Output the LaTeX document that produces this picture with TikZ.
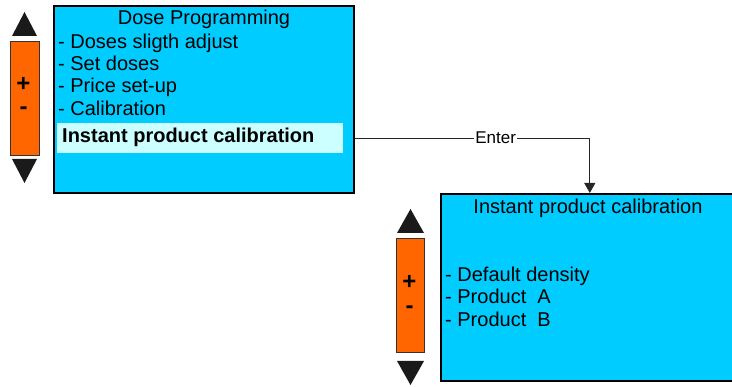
\documentclass[tikz,border=0pt]{standalone}
\usepackage{fontspec}
\setmainfont{Liberation Sans}
\usetikzlibrary{arrows.meta}
\definecolor{screencyan}{HTML}{00CCFF}
\definecolor{keyorange}{HTML}{FF6600}
\definecolor{hilite}{HTML}{CCFFFF}
\definecolor{tridark}{HTML}{1A1A1A}
\begin{document}
\begin{tikzpicture}[
    x=1pt, y=-1pt,
    screen/.style={draw=black, line width=1.6pt, fill=screencyan, anchor=north west, inner sep=0pt},
    item/.style={anchor=base west, inner sep=0pt, font=\fontsize{20}{22}\selectfont},
    key/.style={draw=black!80, line width=1pt, fill=keyorange, anchor=north west, inner sep=0pt},
    sign/.style={font=\fontsize{24}{24}\selectfont\bfseries, inner sep=0pt},
    arrow/.style={-{Triangle[length=10pt,width=11pt]}, draw=black!85, line width=0.8pt}
]
    \useasboundingbox (0,0) rectangle (732,387);

    % Screen 1: dose programming menu
    \node[screen, minimum width=300pt, minimum height=187pt] (dose) at (53,5) {};
    \node[fill=hilite, anchor=north west, minimum width=286pt, minimum height=30pt, inner sep=0pt] (hl) at (57,123) {};
    \node[item, anchor=base] (doseT) at (204,25) {Dose Programming};
    \node[item] (d1) at (58,48.3) {- Doses sligth adjust};
    \node[item] (d2) at (58,70.7) {- Set doses};
    \node[item] (d3) at (58,93) {- Price set-up};
    \node[item] (d4) at (58,115.3) {- Calibration};
    \node[item, font=\fontsize{20}{22}\selectfont\bfseries] (d5) at (62,142.7) {Instant product calibration};

    % Keypad 1
    \node[key, minimum width=29pt, minimum height=114pt] (key1) at (9.5,41) {};
    \fill[tridark] (12,36) -- (24.5,12) -- (37,36) -- cycle;
    \fill[tridark] (12,159) -- (24.5,183) -- (37,159) -- cycle;
    \node[sign] (plus1) at (23.5,84) {+};
    \node[sign] (minus1) at (23.5,111) {-};

    % Screen 2: instant product calibration
    \node[screen, minimum width=292pt, minimum height=187pt] (inst) at (440,193) {};
    \node[item, anchor=base] (instT) at (588,214) {Instant product calibration};
    \node[item] (i1) at (445,281.7) {- Default density};
    \node[item] (i2) at (445,304) {- Product~ A};
    \node[item] (i3) at (445,326.7) {- Product~ B};

    % Keypad 2
    \node[key, minimum width=28pt, minimum height=114pt] (key2) at (396,238) {};
    \fill[tridark] (397,233) -- (410.5,209) -- (424,233) -- cycle;
    \fill[tridark] (397,361) -- (410.5,385) -- (424,361) -- cycle;
    \node[sign] (plus2) at (409.5,282) {+};
    \node[sign] (minus2) at (409.5,310) {-};

    % Enter connector
    \draw[arrow] (hl.east -| dose.east) -| ([xshift=3pt]inst.north)
        node[pos=0.3, fill=white, inner sep=1pt, font=\fontsize{17}{17}\selectfont] (enter) {Enter};

\end{tikzpicture}
\end{document}
